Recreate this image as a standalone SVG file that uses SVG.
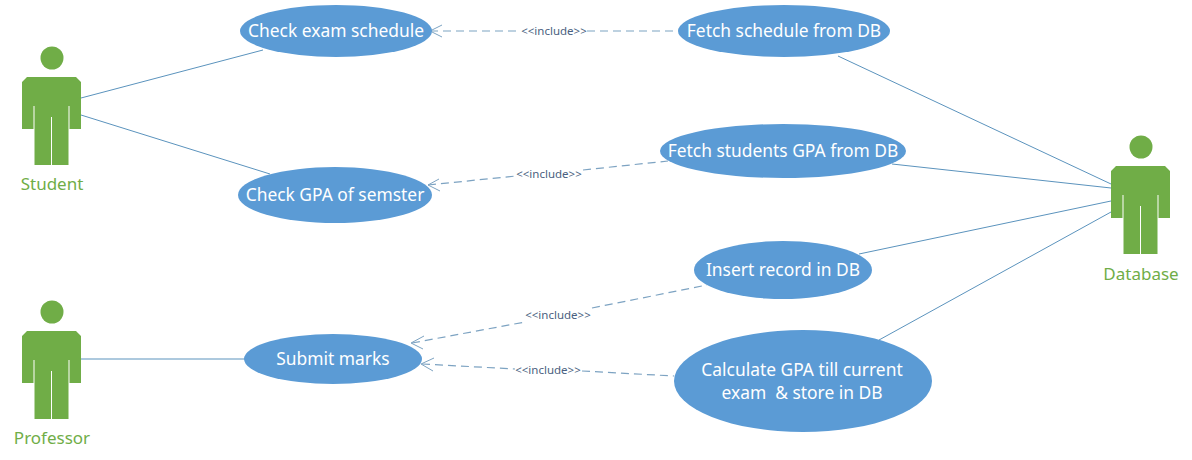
<svg xmlns="http://www.w3.org/2000/svg" width="1192" height="460" viewBox="0 0 1192 460">
<style>
.uc{fill:#5b9bd5}
.ut{font:17.4px "Noto Sans","Open Sans",sans-serif;fill:#fff;text-anchor:middle}
.al{font:17px "Noto Sans","Open Sans",sans-serif;fill:#70ad47;text-anchor:middle}
.a{fill:#70ad47}
.l{stroke:#5b93bd;stroke-width:1;fill:none}
.d{stroke:#7da3c2;stroke-width:1.2;fill:none;stroke-dasharray:8 5}
.h{stroke:#7da3c2;stroke-width:1;fill:none}
.il{font:11.500px "Noto Sans","Open Sans",sans-serif;fill:#4a5f80;text-anchor:middle}
</style>
<defs>
<g id="actor">
<circle cx="52" cy="58" r="11.5"/>
<path d="M27 77H76L81 82V129H69.500V106H68.500V165H52V117H51V165H34.500V106H33.500V129H22V82Z"/>
</g>
</defs>
<g id="connectors">
<path class="l" d="M81 98L263 50"/>
<path class="l" d="M81 115L270 174"/>
<path class="l" d="M81 359H245"/>
<path class="l" d="M838 56L1111 184"/>
<path class="l" d="M892 164L1111 188"/>
<path class="l" d="M859 254L1111 201"/>
<path class="l" d="M879 340L1111 212"/>
<path class="d" d="M430 31H520M587 31H678"/>
<path class="h" d="M442 25L430 31L442 37"/>
<path class="d" d="M428 185L516 176M583 170L668 161"/>
<path class="h" d="M439 179L428 185L440 191"/>
<path class="d" d="M412 343L525 322M592 308L707 285"/>
<path class="h" d="M424 336L411 343L423 349"/>
<path class="d" d="M422 364L515 369M582 371L674 376"/>
<path class="h" d="M434 358L421 364L433 371"/>
</g>
<g id="inc1"><text class="il" x="554" y="35">&lt;&lt;include&gt;&gt;</text></g>
<g id="inc2"><text class="il" x="549" y="178">&lt;&lt;include&gt;&gt;</text></g>
<g id="inc3"><text class="il" x="558" y="319">&lt;&lt;include&gt;&gt;</text></g>
<g id="inc4"><text class="il" x="548" y="374">&lt;&lt;include&gt;&gt;</text></g>
<g id="student" class="a"><use href="#actor"/><text class="al" x="52" y="190">Student</text></g>
<g id="professor" class="a"><use href="#actor" y="254"/><text class="al" x="52" y="444">Professor</text></g>
<g id="database" class="a"><use href="#actor" x="1089" y="89"/><text class="al" x="1141" y="280">Database</text></g>
<g id="check-exam"><ellipse class="uc" cx="336" cy="31" rx="96" ry="26"/><text class="ut" x="336" y="37">Check exam schedule</text></g>
<g id="fetch-schedule"><ellipse class="uc" cx="784" cy="31" rx="106" ry="26"/><text class="ut" x="784" y="37">Fetch schedule from DB</text></g>
<g id="check-gpa"><ellipse class="uc" cx="335" cy="195" rx="97" ry="28"/><text class="ut" x="335" y="201">Check GPA of semster</text></g>
<g id="fetch-gpa"><ellipse class="uc" cx="783" cy="151" rx="123" ry="27"/><text class="ut" x="783" y="157">Fetch students GPA from DB</text></g>
<g id="insert"><ellipse class="uc" cx="783" cy="270" rx="89" ry="29"/><text class="ut" x="783" y="276">Insert record in DB</text></g>
<g id="submit"><ellipse class="uc" cx="333" cy="359" rx="89" ry="25"/><text class="ut" x="333" y="365">Submit marks</text></g>
<g id="calculate"><ellipse class="uc" cx="803" cy="381" rx="129" ry="51"/><text class="ut" x="802" y="376">Calculate GPA till current</text><text class="ut" x="802" y="399" xml:space="preserve">exam  &amp; store in DB</text></g>
</svg>
